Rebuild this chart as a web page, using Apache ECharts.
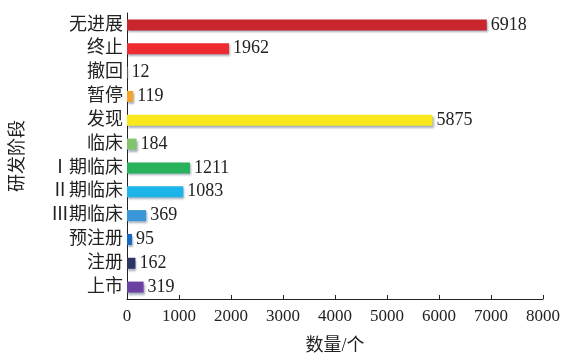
<!DOCTYPE html>
<html><head><meta charset="utf-8">
<script src="https://cdn.jsdelivr.net/npm/echarts@6/dist/echarts.min.js"></script>
<style>html,body{margin:0;padding:0;background:#fff}#c{width:566px;height:360px}</style>
</head><body><div id="c"></div>
<script>
const categories = ['无进展','终止','撤回','暂停','发现','临床','Ⅰ期临床','Ⅱ期临床','Ⅲ期临床','预注册','注册','上市'];
const values = [6918,1962,12,119,5875,184,1211,1083,369,95,162,319];
const colors = ['#c9252d','#ee2b30','#888888','#f4a52a','#f8e81c','#82c46c','#27b25b','#1cb5ea','#3a97d7','#1668c2','#2c3566','#6b40a2'];
const xTicks = [0,1000,2000,3000,4000,5000,6000,7000,8000];
const font = '"Liberation Serif", "Noto Sans CJK SC", serif';
const chart = echarts.init(document.getElementById('c'));
chart.setOption({
  animation:false,
  grid:{left:127,right:23,top:13,bottom:53},
  xAxis:{type:'value',min:xTicks[0],max:xTicks[xTicks.length-1],interval:1000,
    name:'数量/个',nameLocation:'middle',nameGap:38,
    nameTextStyle:{fontFamily:font,fontSize:18,color:'#222'},
    axisLine:{show:true,lineStyle:{color:'#222',width:1}},
    axisTick:{show:true,inside:true,length:4,lineStyle:{color:'#222'}},
    splitLine:{show:false},
    axisLabel:{fontFamily:font,fontSize:17,color:'#222',margin:9,formatter:v=>String(v)}},
  yAxis:{type:'category',data:categories,inverse:true,
    name:'研发阶段',nameLocation:'middle',nameGap:100,nameRotate:90,
    nameTextStyle:{fontFamily:font,fontSize:18,color:'#222'},
    axisLine:{show:true,lineStyle:{color:'#222',width:1}},
    axisTick:{show:false},
    axisLabel:{fontFamily:font,fontSize:18,color:'#222',margin:4}},
  series:[{type:'bar',barWidth:11,
    data:values.map((v,i)=>({value:v,itemStyle:{color:colors[i]}})),
    itemStyle:{shadowColor:'rgba(60,80,110,0.45)',shadowBlur:2,shadowOffsetX:1,shadowOffsetY:2},
    label:{show:true,position:'right',distance:4,fontFamily:font,fontSize:18,color:'#222'}}]
});
</script></body></html>
